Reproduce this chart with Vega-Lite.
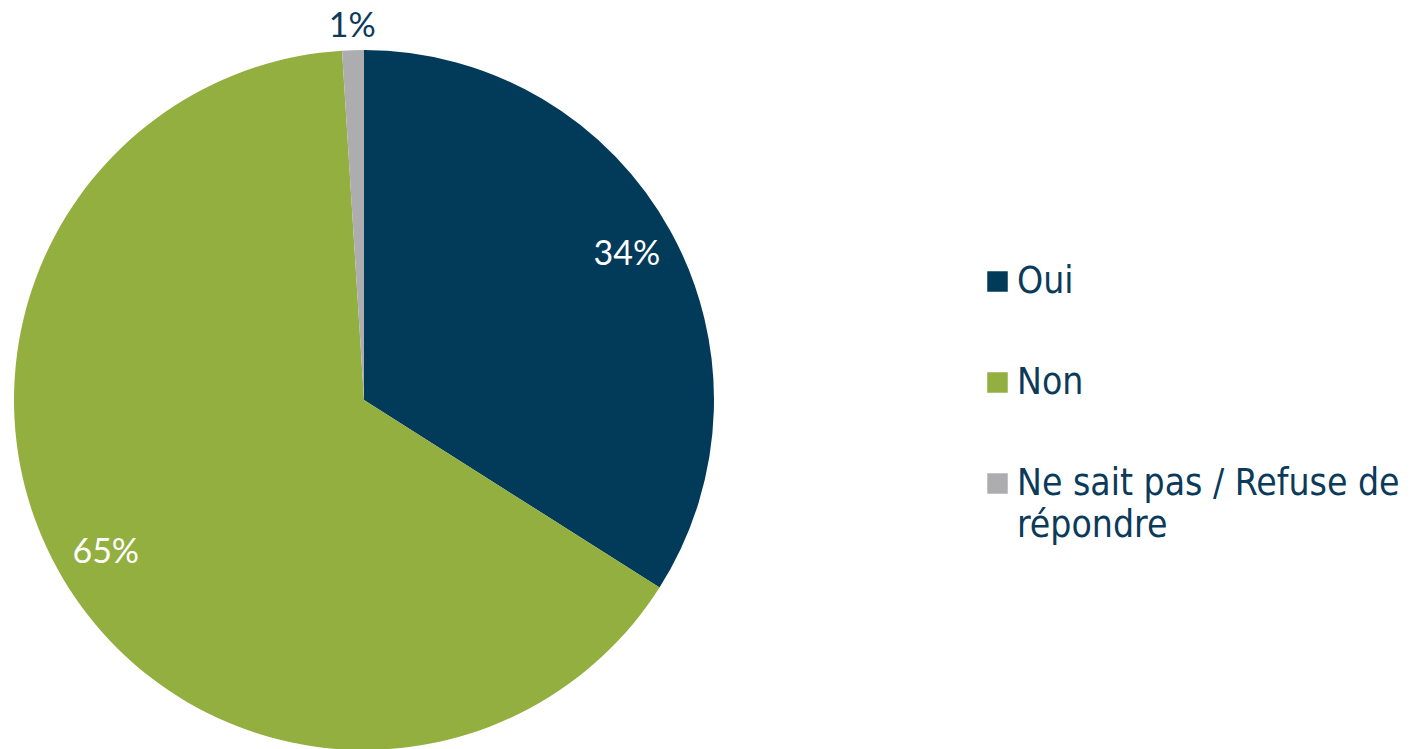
{
  "$schema": "https://vega.github.io/schema/vega-lite/v6.json",
  "width": 700,
  "height": 700,
  "autosize": "none",
  "padding": {"left": 14, "top": 50, "right": 704, "bottom": 0},
  "background": "white",
  "data": {"values": [
    {"cat": "Oui", "value": 0.34, "ord": 1},
    {"cat": "Non", "value": 0.65, "ord": 2},
    {"cat": "Ne sait pas / Refuse de répondre", "value": 0.01, "ord": 3}
  ]},
  "encoding": {
    "theta": {"field": "value", "type": "quantitative", "stack": true},
    "order": {"field": "ord", "type": "quantitative"}
  },
  "layer": [
    {
      "mark": {"type": "arc", "outerRadius": 350},
      "encoding": {
        "color": {
          "field": "cat", "type": "nominal",
          "scale": {"domain": ["Oui", "Non", "Ne sait pas / Refuse de répondre"], "range": ["#023A5A", "#92AF3F", "#ADADB0"]},
          "legend": {
            "title": null, "orient": "none", "legendX": 965, "legendY": 213,
            "symbolType": "square", "symbolSize": 420, "symbolStrokeWidth": 0,
            "labelFont": "DejaVu Sans Condensed", "labelFontSize": 37, "labelColor": "#0B3A5A",
            "labelLimit": 0, "rowPadding": 63, "labelOffset": 1,
            "labelExpr": "datum.label == 'Ne sait pas / Refuse de répondre' ? ['Ne sait pas / Refuse de', 'répondre'] : datum.label"
          }
        }
      }
    },
    {
      "mark": {"type": "text", "radius": 300, "color": "white", "font": "Lato", "fontSize": 34},
      "encoding": {
        "detail": {"field": "cat", "type": "nominal"},
        "text": {"condition": {"test": "datum.ord < 3", "field": "value", "type": "quantitative", "format": ".0%"}, "value": ""}
      }
    },
    {
      "mark": {"type": "text", "radius": 373, "color": "#0B3A5A", "font": "Lato", "fontSize": 34},
      "encoding": {
        "detail": {"field": "cat", "type": "nominal"},
        "text": {"condition": {"test": "datum.ord == 3", "field": "value", "type": "quantitative", "format": ".0%"}, "value": ""}
      }
    }
  ],
  "config": {"view": {"stroke": null}, "style": {"guide-label": {"lineHeight": 42}}}
}
